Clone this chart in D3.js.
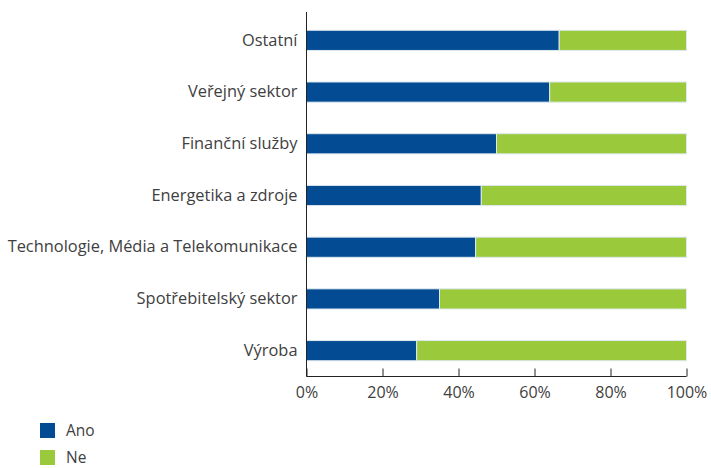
<!DOCTYPE html>
<html><head><meta charset="utf-8">
<script src="https://cdn.jsdelivr.net/npm/d3@7"></script>
<style>body{margin:0;background:#fff}svg{display:block;font-family:"Open Sans",sans-serif}</style>
</head><body><svg id="c" width="711" height="468"></svg>
<script>
const categories = ["Ostatní","Veřejný sektor","Finanční služby","Energetika a zdroje","Technologie, Média a Telekomunikace","Spotřebitelský sektor","Výroba"];
const ano = [66.5, 64, 50, 46, 44.5, 35, 29];
const ne = ano.map(v => 100 - v);
const seriesNames = ["Ano","Ne"];
const colors = ["#034c93","#9aca3c"];
const tickValues = [0,20,40,60,80,100];

const svg = d3.select("#c");
const x = d3.scaleLinear().domain([0,100]).range([306.5,686.5]);
const y = d3.scaleBand().domain(categories).range([14.5,376.5]).paddingInner(0.61).paddingOuter(0.305);

const rows = categories.map((c,i)=>({c, vals:[ano[i], ne[i]]}));
rows.forEach(r=>{
  let acc=0;
  r.vals.forEach((v,j)=>{
    svg.append("rect").attr("x",x(acc)).attr("y",y(r.c)).attr("width",x(acc+v)-x(acc)).attr("height",y.bandwidth())
      .attr("fill",colors[j]).attr("stroke","#dfe8ef").attr("stroke-width",1);
    acc+=v;
  });
});

const xa = svg.append("g").attr("transform","translate(0,376.5)")
  .call(d3.axisBottom(x).tickValues(tickValues).tickFormat(d=>d+"%").tickSize(8).tickSizeOuter(0));
xa.select(".domain").attr("stroke","#222").attr("d","M306.5,0H686.5");
xa.selectAll(".tick line").attr("stroke","#222").attr("y1",-8).attr("y2",0);
xa.selectAll(".tick text").attr("y",10).attr("font-size",16).attr("fill","#404040").attr("font-family","Open Sans");

const ya = svg.append("g").attr("transform","translate(306.5,0)")
  .call(d3.axisLeft(y).tickSize(0).tickPadding(9));
ya.select(".domain").attr("stroke","#222").attr("d","M0,12V376.5");
ya.selectAll(".tick text").attr("font-size",16.4).attr("fill","#404040").attr("font-family","Open Sans");

const lg = svg.append("g");
seriesNames.forEach((s,i)=>{
  lg.append("rect").attr("x",40).attr("y",423+i*27).attr("width",15).attr("height",15).attr("fill",colors[i]);
  lg.append("text").attr("x",66).attr("y",431+i*27).attr("dy","0.35em").attr("font-size",15.5).attr("fill","#404040").text(s);
});
</script></body></html>
